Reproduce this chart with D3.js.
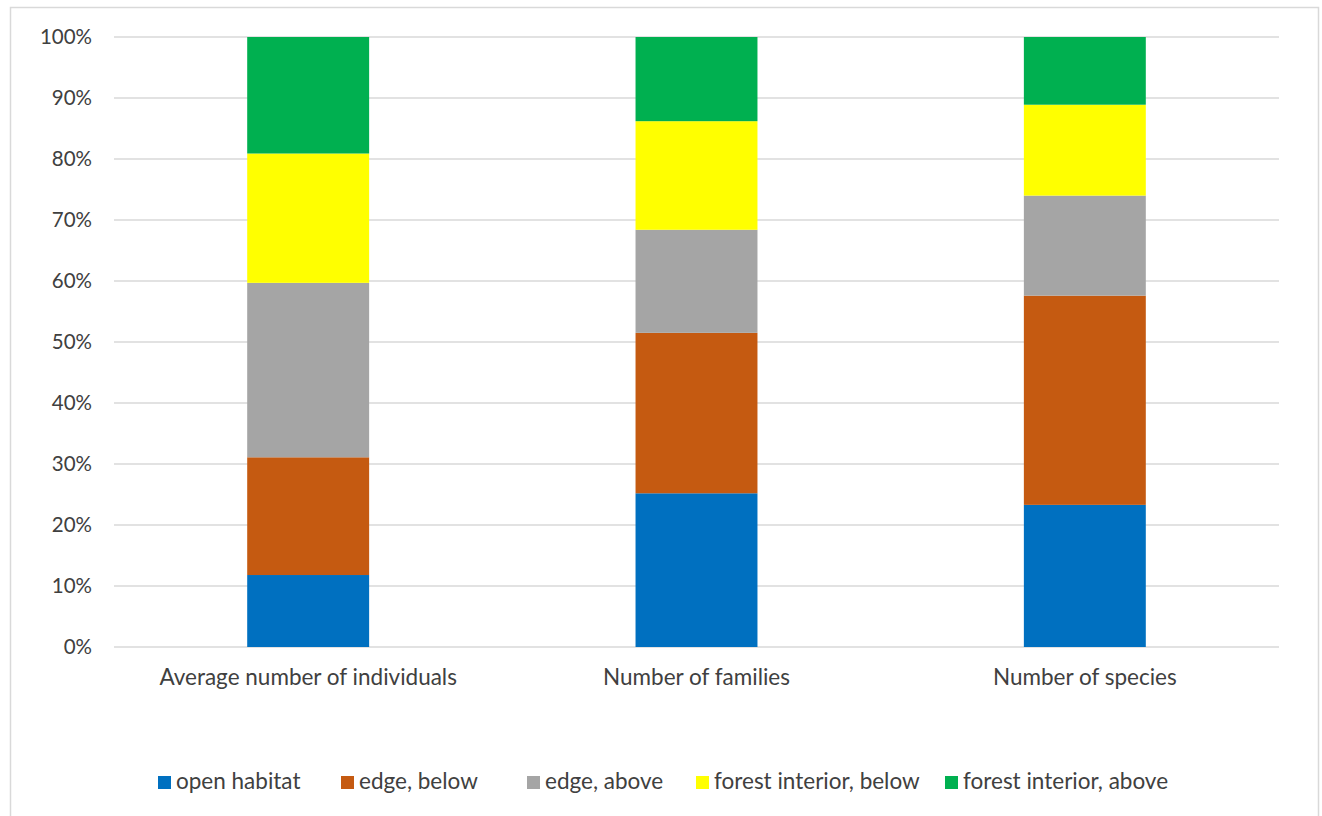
<!DOCTYPE html>
<html>
<head>
<meta charset="utf-8">
<script src="https://cdn.jsdelivr.net/npm/d3@7"></script>
<style>
  html, body { margin: 0; padding: 0; background: #fff; }
  svg { display: block; }
  text { font-family: Lato, "Open Sans", "Liberation Sans", sans-serif; fill: #404040; }
</style>
</head>
<body>
<svg id="chart" width="1322" height="816"></svg>
<script>
// Measures and habitat groups
const categories = ["Average number of individuals", "Number of families", "Number of species"];
const seriesNames = ["open habitat", "edge, below", "edge, above", "forest interior, below", "forest interior, above"];
const seriesColors = ["#0070C0", "#C55A11", "#A5A5A5", "#FFFF00", "#00B050"];

// Share (%) of each habitat group per measure
const openHabitat         = [11.8, 25.2, 23.3];
const edgeBelow           = [19.3, 26.3, 34.3];
const edgeAbove           = [28.6, 16.9, 16.4];
const forestInteriorBelow = [21.2, 17.8, 14.9];
const forestInteriorAbove = [19.1, 13.8, 11.1];

const yTicks = [0, 10, 20, 30, 40, 50, 60, 70, 80, 90, 100];

const svg = d3.select("#chart");

// outer chart frame
svg.append("rect")
  .attr("x", 10.5).attr("y", 7.5)
  .attr("width", 1308).attr("height", 820)
  .attr("fill", "#fff").attr("stroke", "#D9D9D9").attr("stroke-width", 1.5);

const plot = { left: 114, right: 1279, top: 37, bottom: 647 };

const x = d3.scaleBand()
  .domain(categories)
  .range([plot.left, plot.right])
  .paddingInner(0.686)
  .paddingOuter(0.343);

const y = d3.scaleLinear().domain([0, 100]).range([plot.bottom, plot.top]);

// gridlines
svg.append("g")
  .selectAll("line")
  .data(yTicks)
  .join("line")
  .attr("x1", plot.left).attr("x2", plot.right)
  .attr("y1", d => y(d)).attr("y2", d => y(d))
  .attr("stroke", "#D9D9D9").attr("stroke-width", 1.5);

// y axis labels
const yAxis = d3.axisLeft(y).tickValues(yTicks).tickFormat(d => d + "%").tickSize(0).tickPadding(0);
const gy = svg.append("g").attr("transform", `translate(92,0)`).call(yAxis);
gy.select(".domain").remove();
gy.selectAll("text")
  .attr("font-size", 20.5)
  .style("font-family", "Lato, 'Open Sans', sans-serif")
  .attr("fill", "#404040");

// stacked data
const rows = categories.map((c, i) => ({
  category: c,
  "open habitat": openHabitat[i],
  "edge, below": edgeBelow[i],
  "edge, above": edgeAbove[i],
  "forest interior, below": forestInteriorBelow[i],
  "forest interior, above": forestInteriorAbove[i]
}));

const stack = d3.stack().keys(seriesNames);
const layers = stack(rows);
const color = d3.scaleOrdinal().domain(seriesNames).range(seriesColors);

svg.append("g")
  .selectAll("g")
  .data(layers)
  .join("g")
  .attr("fill", d => color(d.key))
  .selectAll("rect")
  .data(d => d)
  .join("rect")
  .attr("x", d => x(d.data.category))
  .attr("width", x.bandwidth())
  .attr("y", d => y(d[1]))
  .attr("height", d => y(d[0]) - y(d[1]));

// category axis labels
const xAxis = d3.axisBottom(x).tickSize(0).tickPadding(0);
const gx = svg.append("g").attr("transform", `translate(0,${plot.bottom})`).call(xAxis);
gx.select(".domain").remove();
gx.selectAll("text")
  .attr("y", 38)
  .attr("dy", 0)
  .attr("font-size", 22.5)
  .style("font-family", "Lato, 'Open Sans', sans-serif")
  .attr("fill", "#404040");

// legend
const legendX = [158, 341, 527, 696, 945];
const legend = svg.append("g")
  .selectAll("g")
  .data(seriesNames)
  .join("g")
  .attr("transform", (d, i) => `translate(${legendX[i]},776)`);
legend.append("rect")
  .attr("width", 13).attr("height", 13)
  .attr("fill", d => color(d));
legend.append("text")
  .attr("x", 18).attr("y", 13)
  .attr("font-size", 22.5)
  .text(d => d);
</script>
</body>
</html>
